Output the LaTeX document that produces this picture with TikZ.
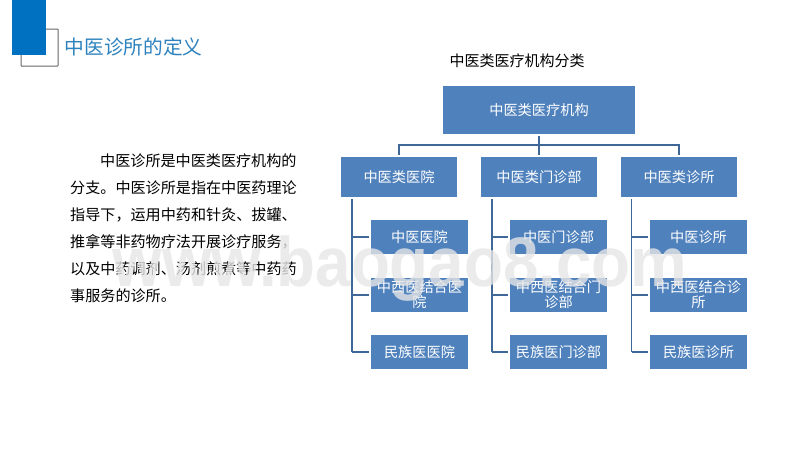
\documentclass[tikz,border=0pt]{standalone}
\usepackage{fontspec}
\setmainfont{Noto Sans CJK SC}
\newfontfamily\wmfont{Liberation Sans}
\definecolor{boxblue}{HTML}{4F81BD}
\definecolor{linkblue}{HTML}{3F6797}
\definecolor{titleblue}{HTML}{2E83BE}
\definecolor{squareblue}{HTML}{0070C0}
\definecolor{framegray}{HTML}{666666}
\definecolor{wmgray}{HTML}{E6E6E6}
\tikzset{
  orgbox/.style={fill=boxblue,text=white,align=center,inner sep=0pt,font=\fontsize{14.2}{15}\selectfont},
  topbox/.style={orgbox,minimum width=192pt,minimum height=48pt},
  midbox/.style={orgbox,minimum width=116pt,minimum height=40pt},
  leafbox/.style={orgbox,minimum width=97pt,minimum height=34pt},
  link/.style={draw=linkblue,line width=1.3pt}
}
\begin{document}
\begin{tikzpicture}[x=1pt,y=-1pt]
\useasboundingbox (0,0) rectangle (800,450);
\fill[white] (0,0) rectangle (800,450);
% header decoration
\draw[framegray,line width=1pt,rounded corners=.5pt] (21,29) rectangle (58,66);
\fill[squareblue] (11.5,0) rectangle (46,55);
\node[anchor=west,inner sep=0pt,text=titleblue,font=\fontsize{19.7}{21}\selectfont] (title) at (64.5,47) {中医诊所的定义};
% org chart
\node[anchor=center,inner sep=0pt,font=\fontsize{15}{16}\selectfont] (caption) at (517,61) {中医类医疗机构分类};
\node[topbox] (root) at (539,110) {中医类医疗机构};
\node[midbox] (a) at (399,177) {中医类医院};
\node[midbox] (b) at (539,177) {中医类门诊部};
\node[midbox] (c) at (679,177) {中医类诊所};
\node[leafbox] (a1) at (419.5,237) {中医医院};
\node[leafbox] (a2) at (419.5,295) {中西医结合医\\院};
\node[leafbox] (a3) at (419.5,352) {民族医医院};
\node[leafbox] (b1) at (558.5,237) {中医门诊部};
\node[leafbox] (b2) at (558.5,295) {中西医结合门\\诊部};
\node[leafbox] (b3) at (558.5,352) {民族医门诊部};
\node[leafbox] (c1) at (698.5,237) {中医诊所};
\node[leafbox] (c2) at (698.5,295) {中西医结合诊\\所};
\node[leafbox] (c3) at (698.5,352) {民族医诊所};
\coordinate (bus) at (539,145);
\draw[link,shorten <=2pt,shorten >=2pt] (root.south) -- (b.north);
\draw[link,shorten >=2pt] (bus) -| (a.north);
\draw[link,shorten >=2pt] (bus) -| (c.north);
\foreach \p/\t in {a/352,b/492,c/631.5}{
  \draw[link,shorten <=2pt] (\t,0 |- \p.south) -- (\t,352);
  \foreach \k in {1,2,3}{
    \draw[link,shorten >=2pt] (\t,0 |- \p\k.west) -- (\p\k.west);
  }
}
% body text
\node[anchor=north west,inner sep=0pt,text=black,font=\fontsize{15.1}{27}\selectfont,text width=230pt,align=left] (body) at (70,154) {\hspace*{30pt}中医诊所是中医类医疗机构的\\分支。中医诊所是指在中医药理论\\指导下，运用中药和针灸、拔罐、\\推拿等非药物疗法开展诊疗服务，\\以及中药调剂、汤剂煎煮等中药药\\事服务的诊所。};
% watermark
\node[anchor=base,inner sep=0pt,text=wmgray,opacity=.8,xscale=.91,font=\wmfont\bfseries\fontsize{70}{74}\selectfont] (wm) at (400,286) {www.baogao8.com};
\end{tikzpicture}
\end{document}
